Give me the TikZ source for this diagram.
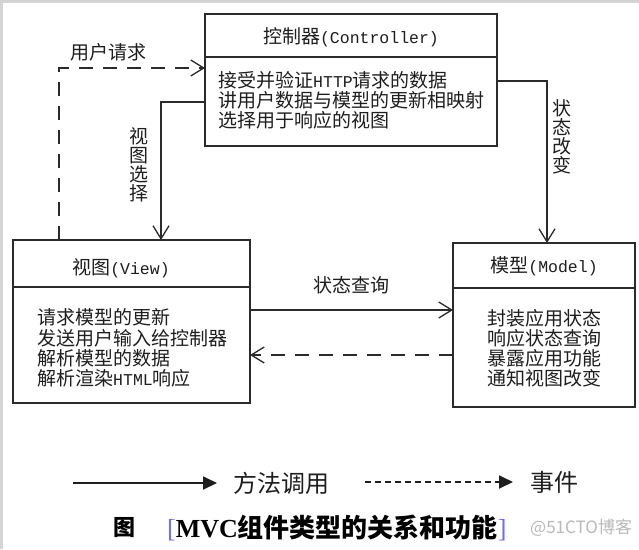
\documentclass[tikz,border=0pt]{standalone}
\usepackage{fontspec}
\setmainfont{Noto Sans CJK SC}
\newfontfamily\monof{Liberation Mono}
\newfontfamily\serf{Liberation Serif}
\usetikzlibrary{arrows.meta}
\definecolor{ln}{HTML}{2B2B2B}
\definecolor{txt}{HTML}{1E1E1E}
\definecolor{brd}{HTML}{D4D4D4}
\definecolor{brk}{HTML}{6E6EF5}
\newcommand{\mf}[1]{{\monof\fontsize{16.5}{18}\selectfont #1}}
\begin{document}
\begin{tikzpicture}[x=1pt,y=-1pt,
  box/.style={draw=ln, line width=1.4pt, fill=white, inner sep=0pt, outer sep=0pt, anchor=north west},
  lbl/.style={text=txt, font=\fontsize{19}{20}\selectfont, inner sep=0pt},
  bodyline/.style={lbl, anchor=base west},
  vlbl/.style={lbl, align=center, font=\fontsize{19}{19}\selectfont},
  conn/.style={draw=ln, line width=1.3pt},
  opentip/.style={-{Straight Barb[length=13pt,width=16pt,line width=1.3pt]}},
  evdash/.style={dash pattern=on 14pt off 10pt},
  legline/.style={draw=txt, line width=1.8pt, -{Triangle[length=14pt,width=13pt]}},
  legtext/.style={text=txt, font=\fontsize{24}{26}\selectfont, inner sep=0pt, anchor=base}
]
\useasboundingbox (0,0) rectangle (639,549);
\fill[white] (0,0) rectangle (639,549);
\fill[brd] (0,0) rectangle (639,3);
\fill[brd] (0,0) rectangle (3,549);

% Controller
\node[box, minimum width=292pt, minimum height=43pt] (ctrlH) at (205,14) {};
\node[box, minimum width=292pt, minimum height=89pt] (ctrlB) at (205,57) {};
\node[lbl, anchor=base] (ctrlT) at (351,43) {控制器\mf{(Controller)}};
\node[bodyline] (c1) at (218,87) {接受并验证\mf{HTTP}请求的数据};
\node[bodyline] (c2) at (218,107) {讲用户数据与模型的更新相映射};
\node[bodyline] (c3) at (218,127) {选择用于响应的视图};

% View
\node[box, minimum width=237pt, minimum height=47pt] (viewH) at (13,240) {};
\node[box, minimum width=237pt, minimum height=116pt] (viewB) at (13,287) {};
\node[lbl, anchor=base] (viewT) at (121,274) {视图\mf{(View)}};
\node[bodyline] (v1) at (37,324.5) {请求模型的更新};
\node[bodyline] (v2) at (37,345) {发送用户输入给控制器};
\node[bodyline] (v3) at (37,365) {解析模型的数据};
\node[bodyline] (v4) at (37,385.5) {解析渲染\mf{HTML}响应};

% Model
\node[box, minimum width=182pt, minimum height=45pt] (modelH) at (453,243) {};
\node[box, minimum width=182pt, minimum height=119pt] (modelB) at (453,288) {};
\node[lbl, anchor=base] (modelT) at (544,272) {模型\mf{(Model)}};
\node[lbl, anchor=base] (m1) at (544,325) {封装应用状态};
\node[lbl, anchor=base] (m2) at (544,345) {响应状态查询};
\node[lbl, anchor=base] (m3) at (544,365) {暴露应用功能};
\node[lbl, anchor=base] (m4) at (544,385) {通知视图改变};

% connectors
\coordinate (ucorner) at (59,68);
\coordinate (vcorner) at (161,102);
\coordinate (scorner) at (547,81);
\coordinate (qy) at (0,310);
\coordinate (ey) at (0,355);

\draw[conn, evdash, opentip] (ucorner |- viewH.north) -- (ucorner) -- (ucorner -| ctrlB.west);
\draw[conn, opentip] (vcorner -| ctrlB.west) -- (vcorner) -- (vcorner |- viewH.north);
\draw[conn, opentip] (scorner -| ctrlB.east) -- (scorner) -- (scorner |- modelH.north);
\draw[conn, opentip] (qy -| viewB.east) -- (qy -| modelB.west);
\draw[conn, evdash, opentip] (ey -| modelB.west) -- (ey -| viewB.east);

\node[lbl, anchor=base] (lreq) at (108,59) {用户请求};
\node[lbl, anchor=base] (lquery) at (351,292) {状态查询};
\node[vlbl] (lsel) at (139,165) {视\\图\\选\\择};
\node[vlbl] (lchg) at (562,137) {状\\态\\改\\变};

% legend
\coordinate (la1) at (73,483);
\coordinate (la2) at (217,483);
\coordinate (lb1) at (365,482);
\coordinate (lb2) at (513,482);
\draw[legline] (la1) -- (la2);
\draw[legline, dash pattern=on 6pt off 4pt] (lb1) -- (lb2);
\node[legtext] (lt1) at (281,492) {方法调用};
\node[legtext] (lt2) at (554,491) {事件};

% caption
\node[text=gray!55, font=\fontsize{17}{18}\selectfont, inner sep=0pt, anchor=base west] (wm) at (530,533) {@51CTO博客};
\node[text=black, font=\fontsize{22}{24}\selectfont\bfseries, inner sep=0pt, anchor=base] (capfig) at (124,535) {图};
\node[text=black, font=\fontsize{26}{28}\selectfont\bfseries, inner sep=0pt, anchor=base west] (cap) at (167,537)
  {{\color{brk}\mdseries\serf[}{\serf MVC}组件类型的关系和功能{\color{brk}\mdseries\serf]}};
\end{tikzpicture}
\end{document}
